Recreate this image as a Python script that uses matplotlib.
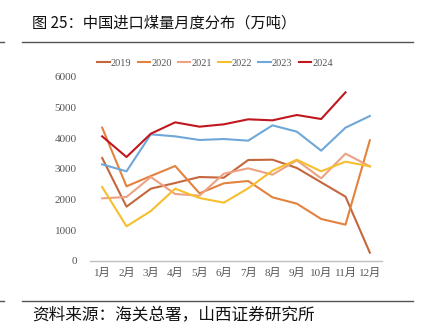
import matplotlib.pyplot as plt
from matplotlib.lines import Line2D

# ---- Data (万吨) ----
months = ['1月', '2月', '3月', '4月', '5月', '6月', '7月', '8月', '9月', '10月', '11月', '12月']
y2019 = [3359, 1772, 2359, 2543, 2739, 2717, 3293, 3304, 3033, 2565, 2098, 272]
y2020 = [4350, 2435, 2772, 3098, 2207, 2533, 2609, 2076, 1870, 1370, 1185, 3935]
y2021 = [2043, 2087, 2739, 2185, 2130, 2848, 3022, 2815, 3283, 2696, 3500, 3087]
y2022 = [2413, 1130, 1630, 2359, 2054, 1902, 2370, 2946, 3304, 2924, 3239, 3087]
y2023 = [3152, 2924, 4130, 4065, 3946, 3978, 3924, 4424, 4217, 3598, 4348, 4728]
y2024 = [4065, 3391, 4152, 4522, 4380, 4457, 4620, 4587, 4761, 4630, 5500]

series = [
    ('2019', y2019, '#C5673D'),
    ('2020', y2020, '#E3823F'),
    ('2021', y2021, '#EDA283'),
    ('2022', y2022, '#F5BF2E'),
    ('2023', y2023, '#6EA7D8'),
    ('2024', y2024, '#C0171F'),
]

serif = ['Liberation Serif', 'Noto Sans CJK SC']
cjk = ['Noto Sans CJK SC', 'DejaVu Sans']

fig = plt.figure(figsize=(4.22, 3.27), dpi=100)
ax = fig.add_axes([90 / 422, 66 / 327, 292 / 422, 184 / 327])

for name, vals, col in series:
    ax.plot(range(len(vals)), vals, color=col, lw=1.5, label=name)

ax.set_xlim(-0.5, 11.5)
ax.set_ylim(0, 6000)
ax.set_yticks(range(0, 6001, 1000))
ax.set_xticks(range(12))
ax.set_xticklabels(months, family=serif, fontsize=8, color='#555555')
for t in ax.get_yticklabels():
    t.set_family(serif)
    t.set_fontsize(8)
    t.set_color('#555555')
ax.tick_params(length=0)
ax.tick_params(axis='y', pad=9.5)
ax.tick_params(axis='x', pad=5)
for s in ['top', 'right', 'left']:
    ax.spines[s].set_visible(False)
ax.spines['bottom'].set_color('#BFBFBF')
ax.spines['bottom'].set_linewidth(1.0)

handles = [Line2D([], [], color=c, lw=1.5) for _, _, c in series]
fig.legend(handles, [n for n, _, _ in series], loc='center', bbox_to_anchor=(215 / 422, 1 - 63 / 327),
           ncol=6, frameon=False, handlelength=1.2, handletextpad=0.1, columnspacing=0.6,
           prop={'family': serif, 'size': 7.5}, labelcolor='#555555')

# header / footer text and rules
fig.text(32 / 422, 1 - 23 / 327, '图 25：中国进口煤量月度分布（万吨）', family=cjk, fontsize=11,
         va='center', ha='left', color='#111111')
fig.text(32 / 422, 1 - 316 / 327, '资料来源：海关总署，山西证券研究所', family=cjk, fontsize=12,
         va='center', ha='left', color='#111111')
for yy in [42, 301]:
    fig.add_artist(Line2D([22 / 422, 413 / 422], [1 - yy / 327] * 2, color='#555555', lw=1.0))
    fig.add_artist(Line2D([0, 4 / 422], [1 - yy / 327] * 2, color='#555555', lw=1.0))

fig.savefig('out.png', dpi=100)
